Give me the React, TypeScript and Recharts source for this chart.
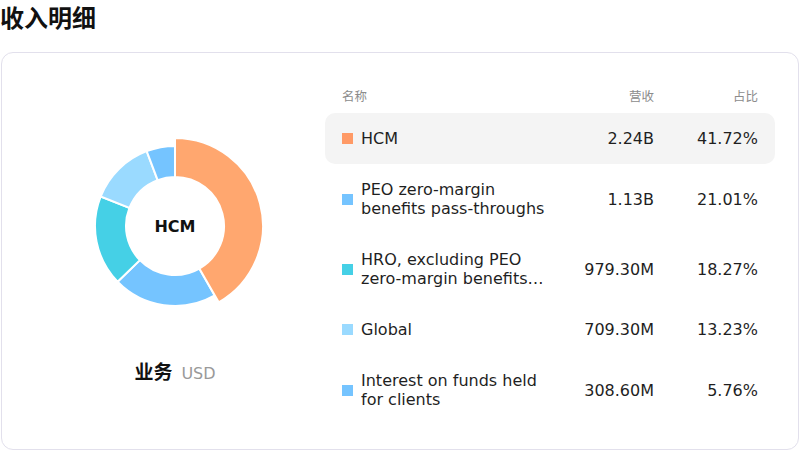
import React from "react";
import { PieChart, Pie, Cell } from "recharts";

// Revenue breakdown by business segment (USD)
const segmentNames: string[] = [
  "HCM",
  "PEO zero-margin benefits pass-throughs",
  "HRO, excluding PEO zero-margin benefits pass-throughs",
  "Global",
  "Interest on funds held for clients",
];
const segmentRevenue: number[] = [2.24e9, 1.13e9, 979.3e6, 709.3e6, 308.6e6];
const segmentShare: number[] = [41.72, 21.01, 18.27, 13.23, 5.76];
const sliceColors: string[] = ["#FFA76F", "#75C4FF", "#45D0E6", "#9ADAFF", "#75C4FF"];
const swatchColors: string[] = ["#FF9A66", "#75C4FF", "#45D0E6", "#9ADAFF", "#75C4FF"];
const highlightIndex = 0;

const pieData = segmentNames.map((name, i) => ({ name, value: segmentShare[i] }));

const fmtRevenue = (v: number) =>
  v >= 1e9 ? `${(v / 1e9).toFixed(2)}B` : `${(v / 1e6).toFixed(2)}M`;

const FONT = '"DejaVu Sans", "Noto Sans CJK SC", sans-serif';

export default function App() {
  return (
    <div
      style={{
        position: "absolute",
        left: 0,
        top: 0,
        width: 800,
        height: 450,
        fontFamily: FONT,
        color: "#1f1f1f",
        background: "#fff",
      }}
    >
      <div
        style={{
          position: "absolute",
          left: 0,
          top: 1,
          fontSize: 24,
          lineHeight: "32px",
          fontWeight: 700,
          fontFamily: '"Noto Sans CJK SC", sans-serif',
          color: "#111",
        }}
      >
        收入明细
      </div>

      <div
        style={{
          position: "absolute",
          left: 1,
          top: 52,
          width: 798,
          height: 398,
          boxSizing: "border-box",
          border: "1px solid #e2e0ec",
          borderRadius: 12,
        }}
      />

      {/* donut */}
      <div style={{ position: "absolute", left: 75, top: 126, width: 200, height: 200 }}>
        <PieChart width={200} height={200}>
          <Pie
            data={pieData}
            dataKey="value"
            nameKey="name"
            cx="50%"
            cy="50%"
            innerRadius={49}
            outerRadius={80}
            startAngle={90}
            endAngle={-270}
            stroke="#fff"
            strokeWidth={2}
            isAnimationActive={false}
          >
            {pieData.map((d, i) => (
              <Cell key={d.name} fill={sliceColors[i]} />
            ))}
          </Pie>
          <Pie
            data={pieData}
            dataKey="value"
            nameKey="name"
            cx="50%"
            cy="50%"
            innerRadius={49}
            outerRadius={88}
            startAngle={90}
            endAngle={-270}
            isAnimationActive={false}
          >
            {pieData.map((d, i) => (
              <Cell
                key={d.name}
                fill={i === highlightIndex ? sliceColors[i] : "transparent"}
                stroke={i === highlightIndex ? "#fff" : "none"}
                strokeWidth={2}
              />
            ))}
          </Pie>
        </PieChart>
        <div
          style={{
            position: "absolute",
            left: 0,
            top: 0,
            width: 200,
            height: 200,
            display: "flex",
            alignItems: "center",
            justifyContent: "center",
            fontSize: 16,
            fontWeight: 700,
            color: "#111",
            pointerEvents: "none",
            paddingTop: 0,
            boxSizing: "border-box",
          }}
        >
          {segmentNames[highlightIndex]}
        </div>
      </div>

      <div
        style={{
          position: "absolute",
          left: 75,
          top: 358,
          width: 200,
          textAlign: "center",
          lineHeight: "26px",
          whiteSpace: "nowrap",
        }}
      >
        <span
          style={{
            fontSize: 19,
            fontWeight: 700,
            color: "#111",
            fontFamily: '"Noto Sans CJK SC", sans-serif',
          }}
        >
          业务
        </span>
        <span style={{ fontSize: 16, color: "#999", marginLeft: 9 }}>USD</span>
      </div>

      {/* table */}
      <div style={{ position: "absolute", left: 325, top: 81, width: 450 }}>
        <div
          style={{
            display: "flex",
            alignItems: "center",
            height: 28,
            padding: "0 17px",
            fontSize: 12.5,
            color: "#8c8c8c",
            fontFamily: '"Noto Sans CJK SC", sans-serif',
          }}
        >
          <div style={{ width: 209 }}>名称</div>
          <div style={{ flex: 1, textAlign: "right" }}>营收</div>
          <div style={{ width: 104, textAlign: "right" }}>占比</div>
        </div>
        <div style={{ height: 4 }} />
        {segmentNames.map((name, i) => (
          <div
            key={name}
            style={{
              display: "flex",
              alignItems: "center",
              padding: "16px 17px",
              fontSize: 16,
              lineHeight: "19px",
              color: "#1f1f1f",
              background: i === highlightIndex ? "#f4f4f4" : "transparent",
              borderRadius: 10,
            }}
          >
            <div
              style={{
                width: 11,
                height: 11,
                background: swatchColors[i],
                flexShrink: 0,
                marginRight: 8,
              }}
            />
            <div
              style={{
                width: 192,
                flexShrink: 0,
                display: "-webkit-box",
                WebkitLineClamp: 2,
                WebkitBoxOrient: "vertical",
                overflow: "hidden",
              } as React.CSSProperties}
            >
              {name}
            </div>
            <div style={{ flex: 1, textAlign: "right" }}>{fmtRevenue(segmentRevenue[i])}</div>
            <div style={{ width: 104, textAlign: "right" }}>{segmentShare[i].toFixed(2)}%</div>
          </div>
        ))}
      </div>
    </div>
  );
}
